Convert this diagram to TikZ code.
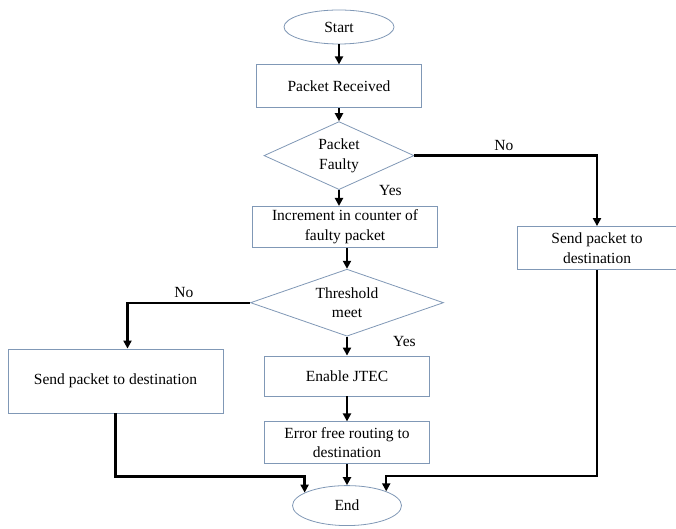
\documentclass[tikz,border=0pt]{standalone}
\usepackage{fontspec}
\setmainfont{Liberation Serif}
\usepackage{xcolor}
\usepackage{tikz}
\usetikzlibrary{
    arrows.meta,
    positioning,
    shapes.geometric,
    calc
}
\definecolor{boxline}{RGB}{128,152,182}
\newcommand{\chartfont}{\fontsize{15.5}{19.5}\selectfont}
\tikzset{
    terminal/.style={
        ellipse,
        draw=boxline,
        line width=0.8pt,
        fill=white,
        minimum width=110pt,
        minimum height=34pt,
        font=\chartfont
    },
    process/.style={
        rectangle,
        draw=boxline,
        line width=0.8pt,
        fill=white,
        align=center,
        minimum width=165pt,
        minimum height=42pt,
        inner sep=2pt,
        font=\chartfont
    },
    decision/.style={
        diamond,
        draw=boxline,
        line width=0.8pt,
        fill=white,
        align=center,
        aspect=2.2,
        inner sep=1pt,
        font=\chartfont
    },
    arrow/.style={
        -{Triangle[length=8pt,width=8pt]},
        line width=2.3pt
    },
    lbl/.style={
        font=\chartfont,
        inner sep=1pt
    }
}

\begin{document}
\begin{tikzpicture}[x=1pt, y=1pt]
\useasboundingbox (0,0) rectangle (676,529);

\node[terminal] (start) at (339,502) {Start};
\node[process, minimum height=43pt, below=20pt of start] (recv) {Packet Received};
\node[decision, minimum width=150pt, minimum height=68pt, below=13pt of recv] (faulty) {Packet\\Faulty};
\node[process, minimum width=185pt, minimum height=41pt, below=16pt of faulty, xshift=6pt] (incr) {Increment in counter of\\faulty packet};
\node[decision, minimum width=193pt, minimum height=67pt, below=21pt of incr, xshift=2pt] (thresh) {Threshold\\meet};
\node[process, minimum height=40pt, below=19pt of thresh] (jtec) {Enable JTEC};
\node[process, below=25pt of jtec] (route) {Error free routing to\\destination};
\node[terminal, minimum width=109pt, minimum height=40pt, below=21pt of route] (endn) {End};

\node[process, minimum width=160pt, minimum height=43pt] (sendR) at (597,281) {Send packet to\\destination};
\node[process, minimum width=215pt, minimum height=64pt] (sendL) at (115.5,148) {Send packet to destination};

% main flow
\draw[arrow] (start) -- (recv);
\draw[arrow] (recv) -- (faulty);
\draw[arrow] (faulty.south) -- node[lbl, pos=0.05, right=38pt] {Yes} (faulty.south |- incr.north);
\draw[arrow] (incr.south -| thresh.north) -- (thresh.north);
\draw[arrow] (thresh.south) -- node[lbl, pos=0.25, right=44pt] {Yes} (jtec.north -| thresh.south);
\draw[arrow] (jtec) -- (route);
\draw[arrow] (route) -- (endn);

% branches
\draw[arrow] (faulty.east) -| node[lbl, pos=0.245, above=3pt] {No} (sendR.north);
\draw[arrow] (thresh.west) -| node[lbl, pos=0.27, above=3pt] {No} ([xshift=12pt]sendL.north);
\draw[arrow] (sendL.south) -- ++(0,-63pt) -| (endn.163);
\draw[arrow] (sendR.south) -- ++(0,-206pt) -| (endn.20);

\end{tikzpicture}
\end{document}
